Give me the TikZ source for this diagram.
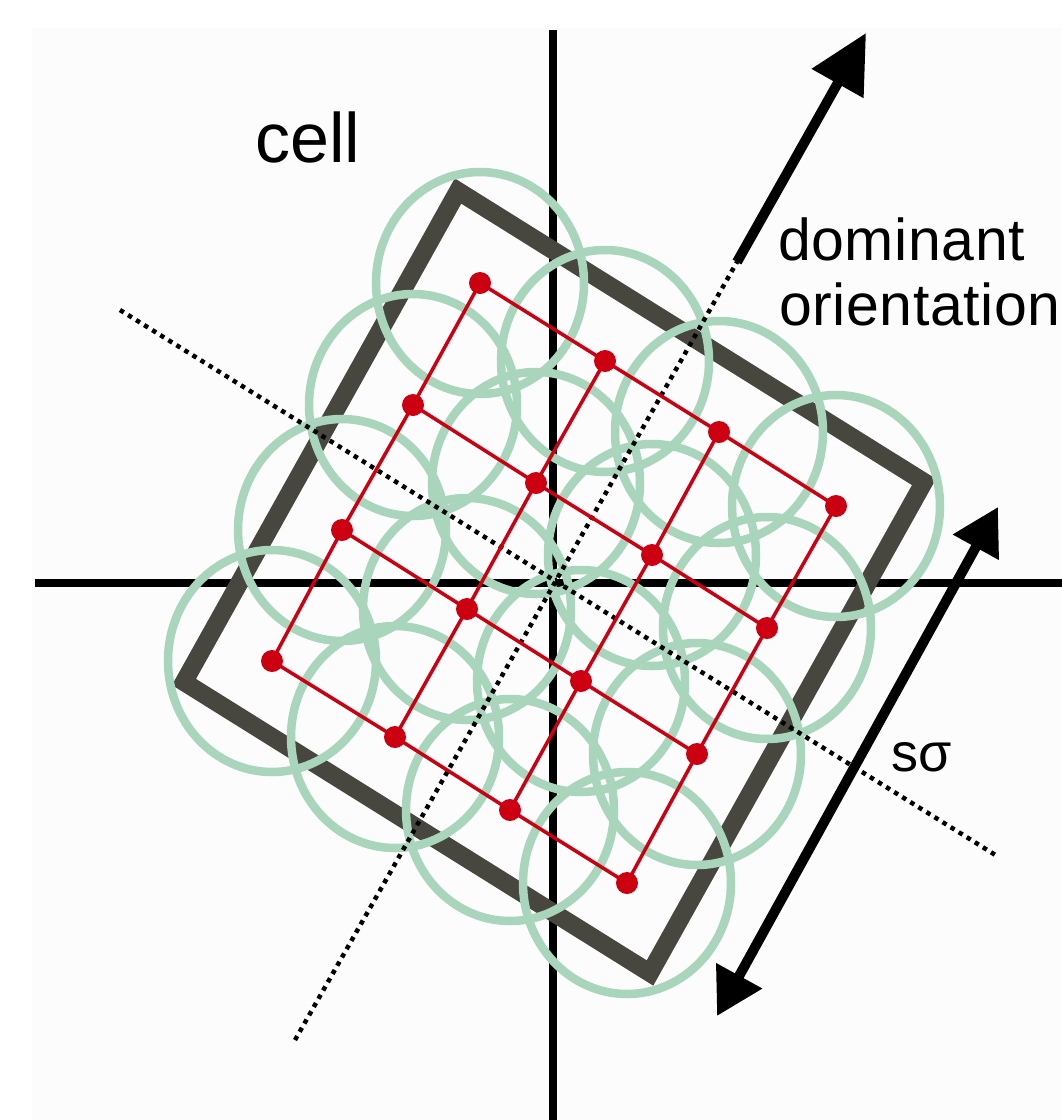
\documentclass[tikz,border=0pt]{standalone}
\usepackage{fontspec}
\setmainfont{Liberation Sans}
\newfontfamily\widesans[LetterSpace=1]{Liberation Sans}
\usetikzlibrary{arrows.meta}
\definecolor{bgc}{RGB}{252,252,252}
\definecolor{sqc}{RGB}{72,71,63}
\definecolor{grc}{RGB}{168,213,187}
\definecolor{rdc}{RGB}{204,0,17}
\begin{document}
\begin{tikzpicture}[x=1pt,y=-1pt,
  axis/.style={line width=8.5pt,black},
  cellsq/.style={line width=18pt,sqc,line join=miter},
  ring/.style={line width=8.5pt,grc},
  gridline/.style={line width=3.5pt,rdc},
  gridpt/.style={circle,fill=rdc,draw=none,inner sep=0pt,minimum size=22pt},
  dotline/.style={line width=4.5pt,black,dash pattern=on 4.5pt off 5pt},
  bigarrow/.style={line width=10pt,black,-{Triangle[length=58pt,width=57pt]}},
  dblarrow/.style={line width=10pt,black,{Triangle[length=46pt,width=50pt]}-{Triangle[length=46pt,width=50pt]}},
  lbl/.style={inner sep=0pt,anchor=base west,text=black}]

\useasboundingbox (0,0) rectangle (1062,1120);
\fill[white] (0,0) rectangle (1062,1120);
\fill[bgc] (32,28) rectangle (1062,1120);

% axes
\coordinate (vt) at (553,30);
\coordinate (vb) at (553,1120);
\coordinate (hl) at (35,583);
\coordinate (hr) at (1062,583);
\draw[axis] (vt) -- (vb);
\draw[axis] (hl) -- (hr);

% cell square
\coordinate (sqT) at (458,191);
\coordinate (sqR) at (924,482);
\coordinate (sqB) at (650,973);
\coordinate (sqL) at (184,682);
\draw[cellsq] (sqT) -- (sqR) -- (sqB) -- (sqL) -- cycle;

% sample points
\foreach \i/\j/\px/\py in {
  0/0/480/283, 0/1/605/361, 0/2/719/432, 0/3/836/506,
  1/0/413/405, 1/1/536/483, 1/2/652/555, 1/3/767/628,
  2/0/342/530, 2/1/467/609, 2/2/581/681, 2/3/697/754,
  3/0/272/661, 3/1/395/737, 3/2/510/810, 3/3/627/883}
  \coordinate (p\i\j) at (\px,\py);

% green rings
\foreach \i in {0,...,3}
  \foreach \j in {0,...,3}
    \draw[ring] (p\i\j) ellipse [x radius=104, y radius=111];

% dotted orientation lines
\coordinate (da) at (120,310);
\coordinate (db) at (997,856);
\coordinate (dc) at (295,1040);
\coordinate (dd) at (737,262);
\draw[dotline] (da) -- (db);
\draw[dotline] (dc) -- (dd);

% red grid
\foreach \i in {0,...,3}
  \draw[gridline] (p\i0) -- (p\i1) -- (p\i2) -- (p\i3);
\foreach \j in {0,...,3}
  \draw[gridline] (p0\j) -- (p1\j) -- (p2\j) -- (p3\j);
\foreach \i in {0,...,3}
  \foreach \j in {0,...,3}
    \node[gridpt] (n\i\j) at (p\i\j) {};

% arrows
\coordinate (de) at (866,33);
\draw[bigarrow] (dd) -- (de);
\coordinate (sa) at (717,1016);
\coordinate (sb) at (998,507);
\draw[dblarrow] (sa) -- (sb);

% labels
\node[lbl,font=\fontsize{70}{84}\selectfont] (cell) at (255,162) {cell};
\node[lbl,font=\widesans\fontsize{59}{70}\selectfont] (dom1) at (778,260) {dominant};
\node[lbl,font=\widesans\fontsize{59}{70}\selectfont] (dom2) at (779,325) {orientation};
\node[lbl,font=\fontsize{54}{64}\selectfont] (ss) at (891,771) {sσ};
\end{tikzpicture}
\end{document}
